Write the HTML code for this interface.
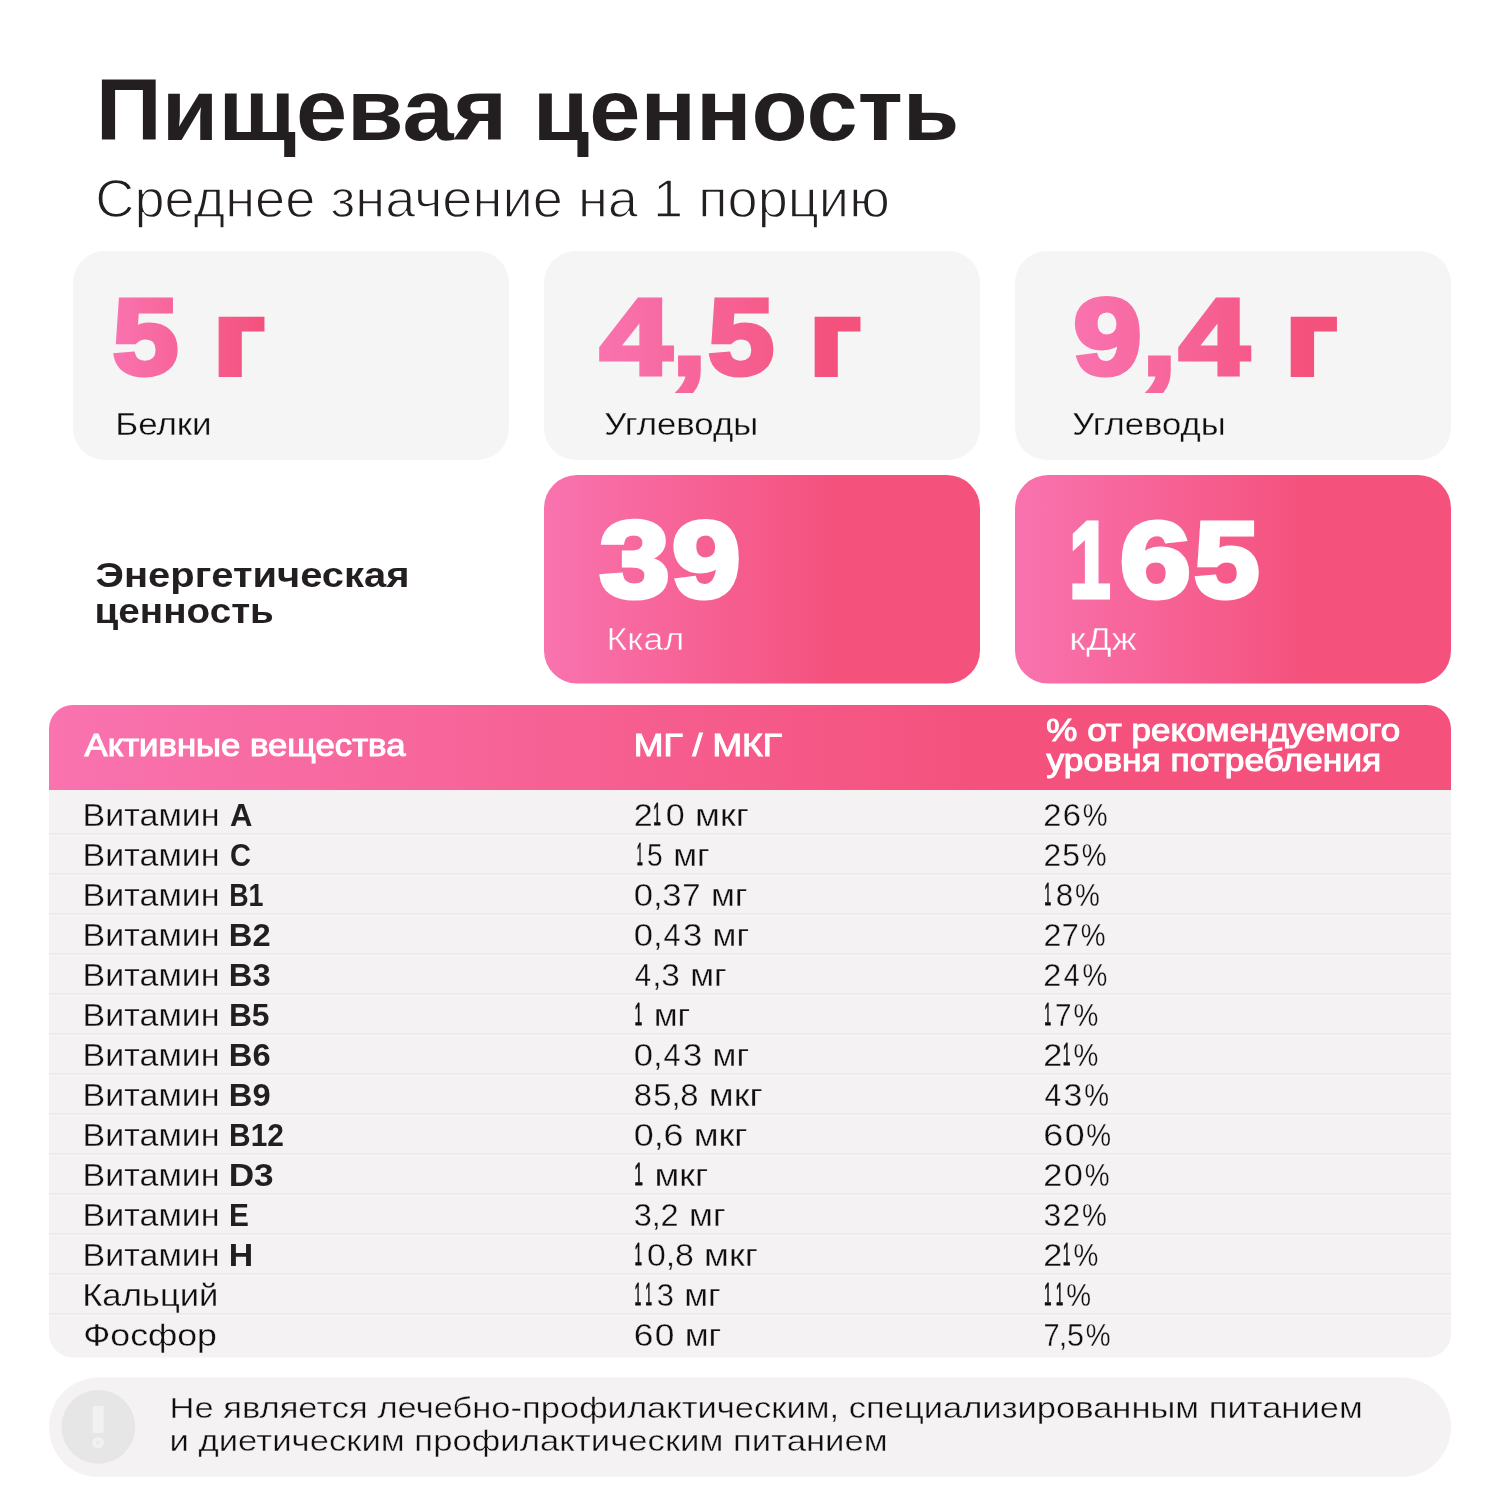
<!DOCTYPE html>
<html lang="ru">
<head>
<meta charset="utf-8">
<title>Пищевая ценность</title>
<style>
html,body{margin:0;padding:0;background:#ffffff;}
body{width:1500px;height:1500px;overflow:hidden;}
svg{display:block;}
text{font-family:"Liberation Sans",sans-serif;white-space:pre;}
</style>
</head>
<body>
<svg width="1500" height="1500" viewBox="0 0 1500 1500">
<defs><linearGradient id="g1" gradientUnits="userSpaceOnUse" x1="113" y1="0" x2="265" y2="0"><stop offset="0" stop-color="#f973af"/><stop offset="1.0" stop-color="#f4517c"/><stop offset="1" stop-color="#f4517c"/></linearGradient><linearGradient id="g2" gradientUnits="userSpaceOnUse" x1="599" y1="0" x2="861" y2="0"><stop offset="0" stop-color="#f973af"/><stop offset="0.9" stop-color="#f4517c"/><stop offset="1" stop-color="#f4517c"/></linearGradient><linearGradient id="g3" gradientUnits="userSpaceOnUse" x1="1074" y1="0" x2="1337" y2="0"><stop offset="0" stop-color="#f973af"/><stop offset="0.9" stop-color="#f4517c"/><stop offset="1" stop-color="#f4517c"/></linearGradient><linearGradient id="gp1" gradientUnits="userSpaceOnUse" x1="544" y1="0" x2="980" y2="0"><stop offset="0" stop-color="#f973af"/><stop offset="0.68" stop-color="#f4517c"/><stop offset="1" stop-color="#f4517c"/></linearGradient><linearGradient id="gp2" gradientUnits="userSpaceOnUse" x1="1015" y1="0" x2="1451" y2="0"><stop offset="0" stop-color="#f973af"/><stop offset="0.68" stop-color="#f4517c"/><stop offset="1" stop-color="#f4517c"/></linearGradient><linearGradient id="gh" gradientUnits="userSpaceOnUse" x1="49" y1="0" x2="1451" y2="0"><stop offset="0" stop-color="#f973af"/><stop offset="0.68" stop-color="#f4517c"/><stop offset="1" stop-color="#f4517c"/></linearGradient><clipPath id="tclip"><rect x="49" y="705" width="1402" height="652.5" rx="24" ry="24"/></clipPath></defs>
<rect width="1500" height="1500" fill="#ffffff"/>
<rect x="73" y="251" width="436" height="209" rx="32" ry="32" fill="#f5f5f5"/>
<rect x="544" y="251" width="436" height="209" rx="32" ry="32" fill="#f5f5f5"/>
<rect x="1015" y="251" width="436" height="209" rx="32" ry="32" fill="#f5f5f5"/>
<rect x="544" y="475" width="436" height="208.5" rx="33" ry="33" fill="url(#gp1)"/>
<rect x="1015" y="475" width="436" height="208.5" rx="33" ry="33" fill="url(#gp2)"/>
<g clip-path="url(#tclip)">
<rect x="49" y="705" width="1402" height="653" fill="#f4f2f2"/>
<rect x="49" y="705" width="1402" height="85" fill="url(#gh)"/>
<rect x="49" y="833" width="1402" height="1.4" fill="#eae9e9"/>
<rect x="49" y="835.4" width="1402" height="1.2" fill="#f7f6f6"/>
<rect x="49" y="873" width="1402" height="1.4" fill="#eae9e9"/>
<rect x="49" y="875.4" width="1402" height="1.2" fill="#f7f6f6"/>
<rect x="49" y="913" width="1402" height="1.4" fill="#eae9e9"/>
<rect x="49" y="915.4" width="1402" height="1.2" fill="#f7f6f6"/>
<rect x="49" y="953" width="1402" height="1.4" fill="#eae9e9"/>
<rect x="49" y="955.4" width="1402" height="1.2" fill="#f7f6f6"/>
<rect x="49" y="993" width="1402" height="1.4" fill="#eae9e9"/>
<rect x="49" y="995.4" width="1402" height="1.2" fill="#f7f6f6"/>
<rect x="49" y="1033" width="1402" height="1.4" fill="#eae9e9"/>
<rect x="49" y="1035.4" width="1402" height="1.2" fill="#f7f6f6"/>
<rect x="49" y="1073" width="1402" height="1.4" fill="#eae9e9"/>
<rect x="49" y="1075.4" width="1402" height="1.2" fill="#f7f6f6"/>
<rect x="49" y="1113" width="1402" height="1.4" fill="#eae9e9"/>
<rect x="49" y="1115.4" width="1402" height="1.2" fill="#f7f6f6"/>
<rect x="49" y="1153" width="1402" height="1.4" fill="#eae9e9"/>
<rect x="49" y="1155.4" width="1402" height="1.2" fill="#f7f6f6"/>
<rect x="49" y="1193" width="1402" height="1.4" fill="#eae9e9"/>
<rect x="49" y="1195.4" width="1402" height="1.2" fill="#f7f6f6"/>
<rect x="49" y="1233" width="1402" height="1.4" fill="#eae9e9"/>
<rect x="49" y="1235.4" width="1402" height="1.2" fill="#f7f6f6"/>
<rect x="49" y="1273" width="1402" height="1.4" fill="#eae9e9"/>
<rect x="49" y="1275.4" width="1402" height="1.2" fill="#f7f6f6"/>
<rect x="49" y="1313" width="1402" height="1.4" fill="#eae9e9"/>
<rect x="49" y="1315.4" width="1402" height="1.2" fill="#f7f6f6"/>
</g>
<rect x="49" y="1377.5" width="1402" height="99.5" rx="49.75" ry="49.75" fill="#f4f2f2"/>
<circle cx="98.35" cy="1426.8" r="36.9" fill="#e7e6e6"/>
<rect x="92.8" y="1406" width="10.8" height="27" rx="0.8" fill="#f2f1f1"/>
<circle cx="98.1" cy="1442.7" r="5.8" fill="#f2f1f1"/>
<circle cx="98.1" cy="1442.7" r="2.3" fill="#ebeaea"/>
<text x="95.78" y="140.00" font-size="88" fill="#231f20" font-weight="700" textLength="863.46" lengthAdjust="spacingAndGlyphs">Пищевая ценность</text>
<text x="95.32" y="216.65" font-size="53.5" fill="#231f20" stroke="#ffffff" stroke-width="1.3" stroke-linejoin="round" textLength="794.48" lengthAdjust="spacingAndGlyphs">Среднее значение на 1 порцию</text>
<text y="373.50" font-size="107" fill="url(#g1)" font-weight="700" stroke="url(#g1)" stroke-width="5.0" stroke-linejoin="miter"><tspan x="112.80" y="373.50" textLength="65.46" lengthAdjust="spacingAndGlyphs">5</tspan></text>
<text x="213.06" y="373.50" font-size="103" fill="url(#g1)" font-weight="700" stroke="url(#g1)" stroke-width="5.0" stroke-linejoin="miter" textLength="51.73" lengthAdjust="spacingAndGlyphs">г</text>
<text x="115.19" y="435.15" font-size="31" fill="#100f0f" stroke="#f5f5f5" stroke-width="0.3" stroke-linejoin="round" textLength="96.44" lengthAdjust="spacingAndGlyphs">Белки</text>
<text y="373.50" font-size="107" fill="url(#g2)" font-weight="700" stroke="url(#g2)" stroke-width="5.0" stroke-linejoin="miter"><tspan x="600.30" y="373.50" textLength="71.41" lengthAdjust="spacingAndGlyphs">4</tspan><tspan x="672.62" y="373.50" textLength="33.44" lengthAdjust="spacingAndGlyphs">,</tspan><tspan x="708.19" y="373.50" textLength="65.68" lengthAdjust="spacingAndGlyphs">5</tspan></text>
<text x="809.06" y="373.50" font-size="103" fill="url(#g2)" font-weight="700" stroke="url(#g2)" stroke-width="5.0" stroke-linejoin="miter" textLength="51.73" lengthAdjust="spacingAndGlyphs">г</text>
<text x="604.25" y="435.15" font-size="31" fill="#100f0f" stroke="#f5f5f5" stroke-width="0.3" stroke-linejoin="round" textLength="153.94" lengthAdjust="spacingAndGlyphs">Углеводы</text>
<text y="373.50" font-size="107" fill="url(#g3)" font-weight="700" stroke="url(#g3)" stroke-width="5.0" stroke-linejoin="miter"><tspan x="1073.47" y="373.50" textLength="68.04" lengthAdjust="spacingAndGlyphs">9</tspan><tspan x="1142.62" y="373.50" textLength="33.44" lengthAdjust="spacingAndGlyphs">,</tspan><tspan x="1179.33" y="373.50" textLength="69.77" lengthAdjust="spacingAndGlyphs">4</tspan></text>
<text x="1284.98" y="373.50" font-size="103" fill="url(#g3)" font-weight="700" stroke="url(#g3)" stroke-width="5.0" stroke-linejoin="miter" textLength="52.24" lengthAdjust="spacingAndGlyphs">г</text>
<text x="1072.25" y="435.15" font-size="31" fill="#100f0f" stroke="#f5f5f5" stroke-width="0.3" stroke-linejoin="round" textLength="153.33" lengthAdjust="spacingAndGlyphs">Углеводы</text>
<text x="95.60" y="586.80" font-size="35.5" fill="#231f20" font-weight="700" textLength="313.93" lengthAdjust="spacingAndGlyphs">Энергетическая</text>
<text x="94.62" y="623.40" font-size="35.5" fill="#231f20" font-weight="700" textLength="179.27" lengthAdjust="spacingAndGlyphs">ценность</text>
<text y="597.00" font-size="107" fill="#ffffff" font-weight="700" stroke="#ffffff" stroke-width="5.0" stroke-linejoin="miter"><tspan x="599.75" y="597.00" textLength="69.87" lengthAdjust="spacingAndGlyphs">3</tspan><tspan x="672.05" y="597.00" textLength="68.49" lengthAdjust="spacingAndGlyphs">9</tspan></text>
<text x="606.45" y="650.25" font-size="31" fill="#ffffff" stroke="url(#gp1)" stroke-width="0.5" stroke-linejoin="round" textLength="77.80" lengthAdjust="spacingAndGlyphs">Ккал</text>
<text y="597.00" font-size="107" fill="#ffffff" font-weight="700" stroke="#ffffff" stroke-width="5.0" stroke-linejoin="miter"><tspan x="1069.38" y="597.00" textLength="40.84" lengthAdjust="spacingAndGlyphs">1</tspan><tspan x="1119.93" y="597.00" textLength="70.74" lengthAdjust="spacingAndGlyphs">6</tspan><tspan x="1194.22" y="597.00" textLength="65.02" lengthAdjust="spacingAndGlyphs">5</tspan></text>
<text x="1069.30" y="650.25" font-size="31" fill="#ffffff" stroke="url(#gp2)" stroke-width="0.5" stroke-linejoin="round" textLength="67.62" lengthAdjust="spacingAndGlyphs">кДж</text>
<text x="84.50" y="755.90" font-size="30.5" fill="#ffffff" stroke="#ffffff" stroke-width="1.0" stroke-linejoin="miter" textLength="320.96" lengthAdjust="spacingAndGlyphs">Активные вещества</text>
<text x="633.76" y="755.50" font-size="30.5" fill="#ffffff" stroke="#ffffff" stroke-width="1.0" stroke-linejoin="miter" textLength="148.34" lengthAdjust="spacingAndGlyphs">МГ / МКГ</text>
<text x="1046.35" y="740.90" font-size="30.5" fill="#ffffff" stroke="#ffffff" stroke-width="1.0" stroke-linejoin="miter" textLength="353.95" lengthAdjust="spacingAndGlyphs">% от рекомендуемого</text>
<text x="1046.50" y="770.70" font-size="30.5" fill="#ffffff" stroke="#ffffff" stroke-width="1.0" stroke-linejoin="miter" textLength="334.76" lengthAdjust="spacingAndGlyphs">уровня потребления</text>
<text x="82.62" y="825.65" font-size="30.5" fill="#100f0f" stroke="#f4f2f2" stroke-width="0.3" stroke-linejoin="round" textLength="136.99" lengthAdjust="spacingAndGlyphs">Витамин</text>
<text x="230.00" y="825.50" font-size="30.5" fill="#231f20" font-weight="700" textLength="22.43" lengthAdjust="spacingAndGlyphs">A</text>
<text y="825.65" font-size="30.5" fill="#100f0f" stroke="#f4f2f2" stroke-width="0.3" stroke-linejoin="round"><tspan x="633.73" y="825.65" textLength="18.97" lengthAdjust="spacingAndGlyphs">2</tspan><tspan x="653.17" stroke="#100f0f" stroke-width="0.8" y="825.10" textLength="7.62" lengthAdjust="spacingAndGlyphs">1</tspan><tspan x="665.85" y="825.65" textLength="18.97" lengthAdjust="spacingAndGlyphs">0</tspan><tspan x="685.04" y="825.65" textLength="63.85" lengthAdjust="spacingAndGlyphs"> мкг</tspan></text>
<text y="825.65" font-size="30.5" fill="#100f0f" stroke="#f4f2f2" stroke-width="0.3" stroke-linejoin="round"><tspan x="1043.38" y="825.65" textLength="18.21" lengthAdjust="spacingAndGlyphs">2</tspan><tspan x="1062.88" y="825.65" textLength="18.21" lengthAdjust="spacingAndGlyphs">6</tspan><tspan x="1082.83" y="825.65" textLength="24.82" lengthAdjust="spacingAndGlyphs">%</tspan></text>
<text x="82.62" y="865.65" font-size="30.5" fill="#100f0f" stroke="#f4f2f2" stroke-width="0.3" stroke-linejoin="round" textLength="136.99" lengthAdjust="spacingAndGlyphs">Витамин</text>
<text x="230.05" y="865.50" font-size="30.5" fill="#231f20" font-weight="700" textLength="20.98" lengthAdjust="spacingAndGlyphs">C</text>
<text y="865.65" font-size="30.5" fill="#100f0f" stroke="#f4f2f2" stroke-width="0.3" stroke-linejoin="round"><tspan x="636.68" stroke="#100f0f" stroke-width="0.8" y="865.10" textLength="6.09" lengthAdjust="spacingAndGlyphs">1</tspan><tspan x="646.98" y="865.65" textLength="15.65" lengthAdjust="spacingAndGlyphs">5</tspan><tspan x="663.53" y="865.65" textLength="46.16" lengthAdjust="spacingAndGlyphs"> мг</tspan></text>
<text y="865.65" font-size="30.5" fill="#100f0f" stroke="#f4f2f2" stroke-width="0.3" stroke-linejoin="round"><tspan x="1043.41" y="865.65" textLength="17.70" lengthAdjust="spacingAndGlyphs">2</tspan><tspan x="1062.35" y="865.65" textLength="17.70" lengthAdjust="spacingAndGlyphs">5</tspan><tspan x="1081.83" y="865.65" textLength="24.82" lengthAdjust="spacingAndGlyphs">%</tspan></text>
<text x="82.62" y="905.65" font-size="30.5" fill="#100f0f" stroke="#f4f2f2" stroke-width="0.3" stroke-linejoin="round" textLength="136.99" lengthAdjust="spacingAndGlyphs">Витамин</text>
<text x="229.24" y="905.50" font-size="30.5" fill="#231f20" font-weight="700" textLength="34.33" lengthAdjust="spacingAndGlyphs">B1</text>
<text y="905.65" font-size="30.5" fill="#100f0f" stroke="#f4f2f2" stroke-width="0.3" stroke-linejoin="round"><tspan x="633.71" y="905.65" textLength="19.30" lengthAdjust="spacingAndGlyphs">0</tspan><tspan x="652.95" y="905.65" textLength="9.63" lengthAdjust="spacingAndGlyphs">,</tspan><tspan x="662.36" y="905.65" textLength="19.30" lengthAdjust="spacingAndGlyphs">3</tspan><tspan x="682.25" y="905.65" textLength="18.34" lengthAdjust="spacingAndGlyphs">7</tspan><tspan x="701.33" y="905.65" textLength="46.16" lengthAdjust="spacingAndGlyphs"> мг</tspan></text>
<text y="905.65" font-size="30.5" fill="#100f0f" stroke="#f4f2f2" stroke-width="0.3" stroke-linejoin="round"><tspan x="1044.18" stroke="#100f0f" stroke-width="0.8" y="905.10" textLength="6.93" lengthAdjust="spacingAndGlyphs">1</tspan><tspan x="1055.78" y="905.65" textLength="17.46" lengthAdjust="spacingAndGlyphs">8</tspan><tspan x="1075.03" y="905.65" textLength="24.82" lengthAdjust="spacingAndGlyphs">%</tspan></text>
<text x="82.62" y="945.65" font-size="30.5" fill="#100f0f" stroke="#f4f2f2" stroke-width="0.3" stroke-linejoin="round" textLength="136.99" lengthAdjust="spacingAndGlyphs">Витамин</text>
<text x="228.86" y="945.50" font-size="30.5" fill="#231f20" font-weight="700" textLength="41.77" lengthAdjust="spacingAndGlyphs">B2</text>
<text y="945.65" font-size="30.5" fill="#100f0f" stroke="#f4f2f2" stroke-width="0.3" stroke-linejoin="round"><tspan x="633.71" y="945.65" textLength="19.27" lengthAdjust="spacingAndGlyphs">0</tspan><tspan x="652.92" y="945.65" textLength="9.61" lengthAdjust="spacingAndGlyphs">,</tspan><tspan x="663.45" y="945.65" textLength="17.00" lengthAdjust="spacingAndGlyphs">4</tspan><tspan x="682.98" y="945.65" textLength="19.27" lengthAdjust="spacingAndGlyphs">3</tspan><tspan x="702.93" y="945.65" textLength="46.16" lengthAdjust="spacingAndGlyphs"> мг</tspan></text>
<text y="945.65" font-size="30.5" fill="#100f0f" stroke="#f4f2f2" stroke-width="0.3" stroke-linejoin="round"><tspan x="1043.40" y="945.65" textLength="17.89" lengthAdjust="spacingAndGlyphs">2</tspan><tspan x="1061.81" y="945.65" textLength="17.00" lengthAdjust="spacingAndGlyphs">7</tspan><tspan x="1080.63" y="945.65" textLength="24.82" lengthAdjust="spacingAndGlyphs">%</tspan></text>
<text x="82.62" y="985.65" font-size="30.5" fill="#100f0f" stroke="#f4f2f2" stroke-width="0.3" stroke-linejoin="round" textLength="136.99" lengthAdjust="spacingAndGlyphs">Витамин</text>
<text x="228.86" y="985.50" font-size="30.5" fill="#231f20" font-weight="700" textLength="41.77" lengthAdjust="spacingAndGlyphs">B3</text>
<text y="985.65" font-size="30.5" fill="#100f0f" stroke="#f4f2f2" stroke-width="0.3" stroke-linejoin="round"><tspan x="634.85" y="985.65" textLength="16.36" lengthAdjust="spacingAndGlyphs">4</tspan><tspan x="652.22" y="985.65" textLength="9.27" lengthAdjust="spacingAndGlyphs">,</tspan><tspan x="661.26" y="985.65" textLength="18.54" lengthAdjust="spacingAndGlyphs">3</tspan><tspan x="680.53" y="985.65" textLength="46.16" lengthAdjust="spacingAndGlyphs"> мг</tspan></text>
<text y="985.65" font-size="30.5" fill="#100f0f" stroke="#f4f2f2" stroke-width="0.3" stroke-linejoin="round"><tspan x="1043.39" y="985.65" textLength="18.05" lengthAdjust="spacingAndGlyphs">2</tspan><tspan x="1063.78" y="985.65" textLength="15.93" lengthAdjust="spacingAndGlyphs">4</tspan><tspan x="1082.53" y="985.65" textLength="24.82" lengthAdjust="spacingAndGlyphs">%</tspan></text>
<text x="82.62" y="1025.65" font-size="30.5" fill="#100f0f" stroke="#f4f2f2" stroke-width="0.3" stroke-linejoin="round" textLength="136.99" lengthAdjust="spacingAndGlyphs">Витамин</text>
<text x="228.91" y="1025.50" font-size="30.5" fill="#231f20" font-weight="700" textLength="40.65" lengthAdjust="spacingAndGlyphs">B5</text>
<text y="1025.65" font-size="30.5" fill="#100f0f" stroke="#f4f2f2" stroke-width="0.3" stroke-linejoin="round"><tspan x="634.49" stroke="#100f0f" stroke-width="0.8" y="1025.10" textLength="7.75" lengthAdjust="spacingAndGlyphs">1</tspan><tspan x="644.13" y="1025.65" textLength="46.16" lengthAdjust="spacingAndGlyphs"> мг</tspan></text>
<text y="1025.65" font-size="30.5" fill="#100f0f" stroke="#f4f2f2" stroke-width="0.3" stroke-linejoin="round"><tspan x="1044.19" stroke="#100f0f" stroke-width="0.8" y="1025.10" textLength="6.90" lengthAdjust="spacingAndGlyphs">1</tspan><tspan x="1055.04" y="1025.65" textLength="16.55" lengthAdjust="spacingAndGlyphs">7</tspan><tspan x="1073.43" y="1025.65" textLength="24.82" lengthAdjust="spacingAndGlyphs">%</tspan></text>
<text x="82.62" y="1065.65" font-size="30.5" fill="#100f0f" stroke="#f4f2f2" stroke-width="0.3" stroke-linejoin="round" textLength="136.99" lengthAdjust="spacingAndGlyphs">Витамин</text>
<text x="228.86" y="1065.50" font-size="30.5" fill="#231f20" font-weight="700" textLength="41.77" lengthAdjust="spacingAndGlyphs">B6</text>
<text y="1065.65" font-size="30.5" fill="#100f0f" stroke="#f4f2f2" stroke-width="0.3" stroke-linejoin="round"><tspan x="633.71" y="1065.65" textLength="19.27" lengthAdjust="spacingAndGlyphs">0</tspan><tspan x="652.92" y="1065.65" textLength="9.61" lengthAdjust="spacingAndGlyphs">,</tspan><tspan x="663.45" y="1065.65" textLength="17.00" lengthAdjust="spacingAndGlyphs">4</tspan><tspan x="682.98" y="1065.65" textLength="19.27" lengthAdjust="spacingAndGlyphs">3</tspan><tspan x="702.93" y="1065.65" textLength="46.16" lengthAdjust="spacingAndGlyphs"> мг</tspan></text>
<text y="1065.65" font-size="30.5" fill="#100f0f" stroke="#f4f2f2" stroke-width="0.3" stroke-linejoin="round"><tspan x="1043.33" y="1065.65" textLength="19.07" lengthAdjust="spacingAndGlyphs">2</tspan><tspan x="1062.87" stroke="#100f0f" stroke-width="0.8" y="1065.10" textLength="7.67" lengthAdjust="spacingAndGlyphs">1</tspan><tspan x="1073.43" y="1065.65" textLength="24.82" lengthAdjust="spacingAndGlyphs">%</tspan></text>
<text x="82.62" y="1105.65" font-size="30.5" fill="#100f0f" stroke="#f4f2f2" stroke-width="0.3" stroke-linejoin="round" textLength="136.99" lengthAdjust="spacingAndGlyphs">Витамин</text>
<text x="228.86" y="1105.50" font-size="30.5" fill="#231f20" font-weight="700" textLength="41.77" lengthAdjust="spacingAndGlyphs">B9</text>
<text y="1105.65" font-size="30.5" fill="#100f0f" stroke="#f4f2f2" stroke-width="0.3" stroke-linejoin="round"><tspan x="633.77" y="1105.65" textLength="18.24" lengthAdjust="spacingAndGlyphs">8</tspan><tspan x="653.31" y="1105.65" textLength="18.24" lengthAdjust="spacingAndGlyphs">5</tspan><tspan x="671.46" y="1105.65" textLength="9.12" lengthAdjust="spacingAndGlyphs">,</tspan><tspan x="680.35" y="1105.65" textLength="18.24" lengthAdjust="spacingAndGlyphs">8</tspan><tspan x="698.84" y="1105.65" textLength="63.85" lengthAdjust="spacingAndGlyphs"> мкг</tspan></text>
<text y="1105.65" font-size="30.5" fill="#100f0f" stroke="#f4f2f2" stroke-width="0.3" stroke-linejoin="round"><tspan x="1044.45" y="1105.65" textLength="16.65" lengthAdjust="spacingAndGlyphs">4</tspan><tspan x="1063.56" y="1105.65" textLength="18.86" lengthAdjust="spacingAndGlyphs">3</tspan><tspan x="1084.13" y="1105.65" textLength="24.82" lengthAdjust="spacingAndGlyphs">%</tspan></text>
<text x="82.62" y="1145.65" font-size="30.5" fill="#100f0f" stroke="#f4f2f2" stroke-width="0.3" stroke-linejoin="round" textLength="136.99" lengthAdjust="spacingAndGlyphs">Витамин</text>
<text x="229.04" y="1145.50" font-size="30.5" fill="#231f20" font-weight="700" textLength="54.91" lengthAdjust="spacingAndGlyphs">B12</text>
<text y="1145.65" font-size="30.5" fill="#100f0f" stroke="#f4f2f2" stroke-width="0.3" stroke-linejoin="round"><tspan x="633.67" y="1145.65" textLength="20.04" lengthAdjust="spacingAndGlyphs">0</tspan><tspan x="653.67" y="1145.65" textLength="9.98" lengthAdjust="spacingAndGlyphs">,</tspan><tspan x="663.44" y="1145.65" textLength="20.04" lengthAdjust="spacingAndGlyphs">6</tspan><tspan x="683.64" y="1145.65" textLength="63.85" lengthAdjust="spacingAndGlyphs"> мкг</tspan></text>
<text y="1145.65" font-size="30.5" fill="#100f0f" stroke="#f4f2f2" stroke-width="0.3" stroke-linejoin="round"><tspan x="1043.28" y="1145.65" textLength="19.93" lengthAdjust="spacingAndGlyphs">6</tspan><tspan x="1064.65" y="1145.65" textLength="19.93" lengthAdjust="spacingAndGlyphs">0</tspan><tspan x="1086.23" y="1145.65" textLength="24.82" lengthAdjust="spacingAndGlyphs">%</tspan></text>
<text x="82.62" y="1185.65" font-size="30.5" fill="#100f0f" stroke="#f4f2f2" stroke-width="0.3" stroke-linejoin="round" textLength="136.99" lengthAdjust="spacingAndGlyphs">Витамин</text>
<text x="228.69" y="1185.50" font-size="30.5" fill="#231f20" font-weight="700" textLength="45.02" lengthAdjust="spacingAndGlyphs">D3</text>
<text y="1185.65" font-size="30.5" fill="#100f0f" stroke="#f4f2f2" stroke-width="0.3" stroke-linejoin="round"><tspan x="634.37" stroke="#100f0f" stroke-width="0.8" y="1185.10" textLength="8.72" lengthAdjust="spacingAndGlyphs">1</tspan><tspan x="644.44" y="1185.65" textLength="63.85" lengthAdjust="spacingAndGlyphs"> мкг</tspan></text>
<text y="1185.65" font-size="30.5" fill="#100f0f" stroke="#f4f2f2" stroke-width="0.3" stroke-linejoin="round"><tspan x="1043.32" y="1185.65" textLength="19.12" lengthAdjust="spacingAndGlyphs">2</tspan><tspan x="1063.82" y="1185.65" textLength="19.12" lengthAdjust="spacingAndGlyphs">0</tspan><tspan x="1084.63" y="1185.65" textLength="24.82" lengthAdjust="spacingAndGlyphs">%</tspan></text>
<text x="82.62" y="1225.65" font-size="30.5" fill="#100f0f" stroke="#f4f2f2" stroke-width="0.3" stroke-linejoin="round" textLength="136.99" lengthAdjust="spacingAndGlyphs">Витамин</text>
<text x="229.04" y="1225.50" font-size="30.5" fill="#231f20" font-weight="700" textLength="19.89" lengthAdjust="spacingAndGlyphs">E</text>
<text y="1225.65" font-size="30.5" fill="#100f0f" stroke="#f4f2f2" stroke-width="0.3" stroke-linejoin="round"><tspan x="633.78" y="1225.65" textLength="18.08" lengthAdjust="spacingAndGlyphs">3</tspan><tspan x="651.78" y="1225.65" textLength="9.05" lengthAdjust="spacingAndGlyphs">,</tspan><tspan x="660.59" y="1225.65" textLength="18.08" lengthAdjust="spacingAndGlyphs">2</tspan><tspan x="679.43" y="1225.65" textLength="46.16" lengthAdjust="spacingAndGlyphs"> мг</tspan></text>
<text y="1225.65" font-size="30.5" fill="#100f0f" stroke="#f4f2f2" stroke-width="0.3" stroke-linejoin="round"><tspan x="1043.40" y="1225.65" textLength="17.75" lengthAdjust="spacingAndGlyphs">3</tspan><tspan x="1062.41" y="1225.65" textLength="17.75" lengthAdjust="spacingAndGlyphs">2</tspan><tspan x="1081.93" y="1225.65" textLength="24.82" lengthAdjust="spacingAndGlyphs">%</tspan></text>
<text x="82.62" y="1265.65" font-size="30.5" fill="#100f0f" stroke="#f4f2f2" stroke-width="0.3" stroke-linejoin="round" textLength="136.99" lengthAdjust="spacingAndGlyphs">Витамин</text>
<text x="228.78" y="1265.50" font-size="30.5" fill="#231f20" font-weight="700" textLength="24.47" lengthAdjust="spacingAndGlyphs">H</text>
<text y="1265.65" font-size="30.5" fill="#100f0f" stroke="#f4f2f2" stroke-width="0.3" stroke-linejoin="round"><tspan x="634.51" stroke="#100f0f" stroke-width="0.8" y="1265.10" textLength="7.55" lengthAdjust="spacingAndGlyphs">1</tspan><tspan x="647.08" y="1265.65" textLength="18.82" lengthAdjust="spacingAndGlyphs">0</tspan><tspan x="665.83" y="1265.65" textLength="9.40" lengthAdjust="spacingAndGlyphs">,</tspan><tspan x="675.00" y="1265.65" textLength="18.82" lengthAdjust="spacingAndGlyphs">8</tspan><tspan x="694.04" y="1265.65" textLength="63.85" lengthAdjust="spacingAndGlyphs"> мкг</tspan></text>
<text y="1265.65" font-size="30.5" fill="#100f0f" stroke="#f4f2f2" stroke-width="0.3" stroke-linejoin="round"><tspan x="1043.33" y="1265.65" textLength="19.07" lengthAdjust="spacingAndGlyphs">2</tspan><tspan x="1062.87" stroke="#100f0f" stroke-width="0.8" y="1265.10" textLength="7.67" lengthAdjust="spacingAndGlyphs">1</tspan><tspan x="1073.43" y="1265.65" textLength="24.82" lengthAdjust="spacingAndGlyphs">%</tspan></text>
<text x="82.18" y="1305.65" font-size="30.5" fill="#100f0f" stroke="#f4f2f2" stroke-width="0.3" stroke-linejoin="round" textLength="136.29" lengthAdjust="spacingAndGlyphs">Кальций</text>
<text y="1305.65" font-size="30.5" fill="#100f0f" stroke="#f4f2f2" stroke-width="0.3" stroke-linejoin="round"><tspan x="634.60" stroke="#100f0f" stroke-width="0.8" y="1305.10" textLength="6.80" lengthAdjust="spacingAndGlyphs">1</tspan><tspan x="645.25" stroke="#100f0f" stroke-width="0.8" y="1305.10" textLength="6.80" lengthAdjust="spacingAndGlyphs">1</tspan><tspan x="656.65" y="1305.65" textLength="17.18" lengthAdjust="spacingAndGlyphs">3</tspan><tspan x="674.63" y="1305.65" textLength="46.16" lengthAdjust="spacingAndGlyphs"> мг</tspan></text>
<text y="1305.65" font-size="30.5" fill="#100f0f" stroke="#f4f2f2" stroke-width="0.3" stroke-linejoin="round"><tspan x="1044.11" stroke="#100f0f" stroke-width="0.8" y="1305.10" textLength="7.54" lengthAdjust="spacingAndGlyphs">1</tspan><tspan x="1055.79" stroke="#100f0f" stroke-width="0.8" y="1305.10" textLength="7.54" lengthAdjust="spacingAndGlyphs">1</tspan><tspan x="1066.23" y="1305.65" textLength="24.82" lengthAdjust="spacingAndGlyphs">%</tspan></text>
<text x="83.28" y="1345.65" font-size="30.5" fill="#100f0f" stroke="#f4f2f2" stroke-width="0.3" stroke-linejoin="round" textLength="133.59" lengthAdjust="spacingAndGlyphs">Фосфор</text>
<text y="1345.65" font-size="30.5" fill="#100f0f" stroke="#f4f2f2" stroke-width="0.3" stroke-linejoin="round"><tspan x="633.69" y="1345.65" textLength="19.67" lengthAdjust="spacingAndGlyphs">6</tspan><tspan x="654.79" y="1345.65" textLength="19.67" lengthAdjust="spacingAndGlyphs">0</tspan><tspan x="675.13" y="1345.65" textLength="46.16" lengthAdjust="spacingAndGlyphs"> мг</tspan></text>
<text y="1345.65" font-size="30.5" fill="#100f0f" stroke="#f4f2f2" stroke-width="0.3" stroke-linejoin="round"><tspan x="1043.50" y="1345.65" textLength="16.11" lengthAdjust="spacingAndGlyphs">7</tspan><tspan x="1058.71" y="1345.65" textLength="8.51" lengthAdjust="spacingAndGlyphs">,</tspan><tspan x="1066.97" y="1345.65" textLength="16.95" lengthAdjust="spacingAndGlyphs">5</tspan><tspan x="1085.73" y="1345.65" textLength="24.82" lengthAdjust="spacingAndGlyphs">%</tspan></text>
<text x="169.46" y="1418.20" font-size="29.5" fill="#100f0f" stroke="#f4f2f2" stroke-width="0.4" stroke-linejoin="round" textLength="1193.24" lengthAdjust="spacingAndGlyphs">Не является лечебно-профилактическим, специализированным питанием</text>
<text x="169.45" y="1451.20" font-size="29.5" fill="#100f0f" stroke="#f4f2f2" stroke-width="0.4" stroke-linejoin="round" textLength="718.26" lengthAdjust="spacingAndGlyphs">и диетическим профилактическим питанием</text>
</svg>
</body>
</html>
